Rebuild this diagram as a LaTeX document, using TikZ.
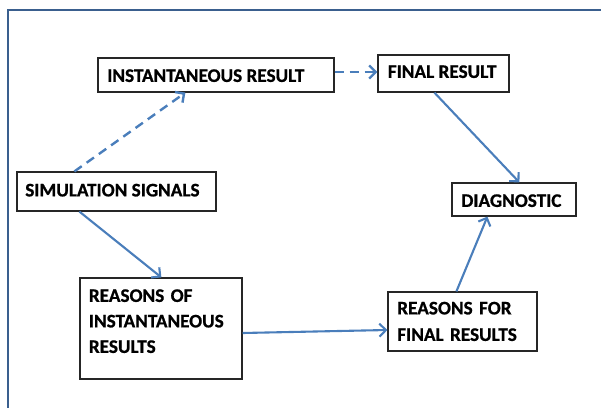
\documentclass[tikz,border=0pt]{standalone}
\usepackage{fontspec}
\setmainfont{Carlito}[BoldFont={Carlito Bold},BoldFeatures={FakeBold=0.8}]
\usetikzlibrary{arrows.meta}
\definecolor{arrowblue}{HTML}{4A7EBB}
\definecolor{framecol}{HTML}{3A5F8E}
\tikzset{
  box/.style={draw=black!85, line width=1.2pt, fill=white, inner sep=0pt},
  lbl/.style={anchor=base west, inner sep=0pt, align=left,
    font=\fontsize{19.2}{25.5}\selectfont\bfseries},
  conn/.style={draw=arrowblue, line width=2.1pt, -{Straight Barb[length=6.5pt,width=13pt]}},
  dconn/.style={conn, line width=2.4pt, dash pattern=on 9pt off 6pt}
}
\begin{document}
\begin{tikzpicture}[x=1pt,y=1pt]
\useasboundingbox (0,0) rectangle (601,408);
\draw[framecol, line width=2.5pt] (601,398) -- (8,398) -- (8,0);
\node[box, minimum width=236pt, minimum height=34pt] (inst) at (216,333) {};
\node[box, minimum width=131pt, minimum height=37pt] (final) at (443.5,334.5) {};
\node[box, minimum width=124pt, minimum height=33pt] (diag) at (514,208.5) {};
\node[box, minimum width=199pt, minimum height=39pt] (sim) at (116.5,216.5) {};
\node[box, minimum width=162pt, minimum height=101pt] (roi) at (161,79.5) {};
\node[box, minimum width=149pt, minimum height=59pt] (rff) at (462.5,86.5) {};
\node[lbl] (instt) at ([xshift=9.7pt,yshift=-24.5pt]inst.north west) {INSTANTANEOUS RESULT};
\node[lbl] (finalt) at ([xshift=10.3pt,yshift=-23.5pt]final.north west) {FINAL RESULT};
\node[lbl] (diagt) at ([xshift=9.7pt,yshift=-24.5pt]diag.north west) {DIAGNOSTIC};
\node[lbl] (simt) at ([xshift=8.7pt,yshift=-25pt]sim.north west) {SIMULATION SIGNALS};
\node[lbl, text width=150pt] (roit) at ([xshift=9.3pt,yshift=-24.5pt]roi.north west) {REASONS OF\\INSTANTANEOUS\\RESULTS};
\node[lbl, text width=140pt] (rfft) at ([xshift=9.7pt,yshift=-23pt]rff.north west) {REASONS FOR\\[1pt]FINAL RESULTS};
\draw[dconn] ([xshift=58pt]sim.north west) -- ([xshift=88pt]inst.south west);
\draw[dconn] ([yshift=3pt]inst.east) -- ([yshift=1.5pt]final.west);
\draw[conn] ([xshift=57pt]final.south west) -- ([xshift=68pt]diag.north west);
\draw[conn] ([xshift=63pt]sim.south west) -- ([xshift=82pt]roi.north west);
\draw[conn] ([yshift=-4.5pt]roi.east) -- ([yshift=-8.5pt]rff.west);
\draw[conn] ([xshift=69pt]rff.north west) -- ([xshift=36pt]diag.south west);
\end{tikzpicture}
\end{document}
